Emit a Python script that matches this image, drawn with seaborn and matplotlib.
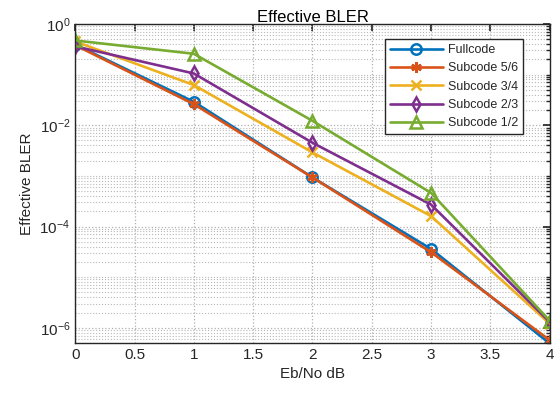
import numpy as np
import pandas as pd
import matplotlib
matplotlib.use("Agg")
import matplotlib.pyplot as plt
import matplotlib.ticker as mticker
import seaborn as sns

ebno = [0, 1, 2, 3, 4]
series_names = ["Fullcode", "Subcode 5/6", "Subcode 3/4", "Subcode 2/3", "Subcode 1/2"]
fullcode = [0.39, 0.029, 9.3e-4, 3.6e-5, 4.9e-7]
sub56 = [0.38, 0.026, 9.3e-4, 3.1e-5, 5.7e-7]
sub34 = [0.45, 0.062, 2.9e-3, 1.6e-4, 1.2e-6]
sub23 = [0.36, 0.105, 4.5e-3, 2.7e-4, 1.3e-6]
sub12 = [0.47, 0.257, 0.0122, 4.6e-4, 1.38e-6]
x_ticks = [0, 0.5, 1, 1.5, 2, 2.5, 3, 3.5, 4]

colors = ["#0072BD", "#D95319", "#EDB120", "#7E2F8E", "#77AC30"]
markers = ["o", (6, 2, 0), "x", "d", "^"]

sns.set_theme(style="white")
plt.rcParams["font.family"] = ["Liberation Sans", "DejaVu Sans"]
plt.rcParams["mathtext.fontset"] = "custom"
plt.rcParams["mathtext.rm"] = "Liberation Sans"
plt.rcParams["mathtext.it"] = "Liberation Sans"

fig = plt.figure(figsize=(5.57, 3.98), dpi=100)
ax = fig.add_axes([0.135, 0.138, 0.852, 0.802])

all_vals = [fullcode, sub56, sub34, sub23, sub12]
df = pd.DataFrame({
    "x": np.tile(ebno, len(series_names)),
    "y": np.concatenate(all_vals),
    "s": np.repeat(series_names, len(ebno)),
})

for name, c, m in zip(series_names, colors, markers):
    d = df[df["s"] == name]
    filled = isinstance(m, tuple) or m == "x"
    sns.lineplot(data=d, x="x", y="y", ax=ax, color=c, lw=1.9, label=name,
                 marker=m, markersize=7.5 if m != "^" else 8.5,
                 markerfacecolor=c if filled else "none",
                 markeredgecolor=c, markeredgewidth=1.8)

ax.set_yscale("log")
ax.set_xlim(0, 4)
ax.set_ylim(5e-7, 1)
ax.set_xticks(x_ticks)
ax.set_xticklabels([f"{t:g}" for t in x_ticks])
ax.yaxis.set_major_locator(mticker.FixedLocator([1, 1e-2, 1e-4, 1e-6]))
ax.yaxis.set_minor_locator(mticker.LogLocator(base=10, subs=np.arange(1, 10), numticks=50))
ax.yaxis.set_minor_formatter(mticker.NullFormatter())
ax.yaxis.set_major_formatter(mticker.LogFormatterSciNotation())

ax.grid(True, which="major", axis="both", color="#b0b0b0", ls=":", lw=0.9)
ax.grid(True, which="minor", axis="y", color="#b8b8b8", ls=":", lw=0.8)

for sp in ax.spines.values():
    sp.set_color("#262626")
    sp.set_linewidth(1.0)
ax.tick_params(which="both", direction="in", top=True, right=True, colors="#262626",
               labelsize=11)
ax.tick_params(which="major", length=5)
ax.tick_params(which="minor", length=3)

ax.set_xlabel("Eb/No dB", fontsize=11, color="#262626")
ax.set_ylabel("Effective BLER", fontsize=11, color="#262626")
ax.set_title("Effective BLER", fontsize=12, color="black", pad=1.5)

leg = ax.legend(loc="upper left", bbox_to_anchor=(0.653, 0.952), borderaxespad=0,
                fontsize=9, frameon=True, fancybox=False, edgecolor="#262626",
                framealpha=1, handlelength=4.2, borderpad=0.4, labelspacing=0.5,
                handletextpad=0.4)
leg.get_frame().set_linewidth(1.0)

fig.savefig("out.png", dpi=100)
